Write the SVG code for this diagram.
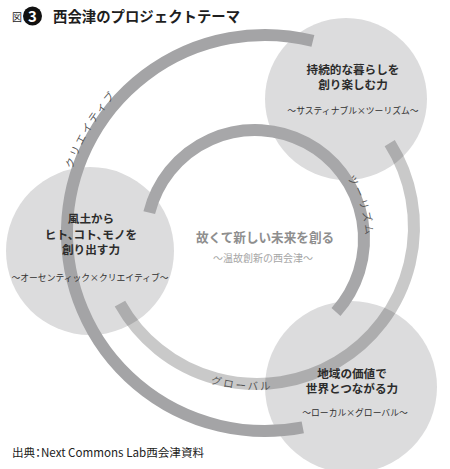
<svg xmlns="http://www.w3.org/2000/svg" width="450" height="469" viewBox="0 0 450 469">
<style>
text{font-family:"Noto Sans CJK JP","Noto Sans",sans-serif;}
.circ{fill:#dcdcdd;}
.arc{fill:none;stroke-width:12;stroke-linecap:butt;}
.a{stroke:#a4a4a6;}
.b{stroke:#a7a7a9;}
.c{stroke:#000;stroke-opacity:0.21;}
.node{fill:#2c2c2c;font-size:11.6px;font-weight:bold;text-anchor:middle;}
.sub{fill:#303030;font-size:8.8px;text-anchor:middle;}
.lbl{fill:#555;font-size:10.4px;}
.halt{font-feature-settings:'halt';}
</style>
<defs>
<path id="pA" d="M 63.01 212.84 A 203 203 0 0 1 150.6 65.3"/>
<path id="pB" d="M 336.73 164.63 A 110.5 110.5 0 0 1 364.5 253.81"/>
<path id="pC" d="M 175.5 368.16 A 163 163 0 0 0 310.07 381.12"/>
</defs>
<rect width="450" height="469" fill="#fff"/>
<g id="title">
<text x="12" y="20.5" font-size="10" fill="#222">図</text>
<circle cx="32.5" cy="16" r="9.5" fill="#111"/>
<text x="32.5" y="21.5" font-size="15" font-weight="bold" fill="#fff" text-anchor="middle">3</text>
<text x="53" y="22" font-size="14.4" font-weight="bold" fill="#1e1e1e">西会津のプロジェクトテーマ</text>
</g>
<g id="node-sustain"><circle class="circ" cx="346" cy="99" r="81"/></g>
<g id="node-authentic"><circle class="circ" cx="90" cy="251" r="84"/></g>
<g id="node-local"><circle class="circ" cx="351" cy="387" r="86"/></g>
<g id="connectors">
<path class="arc a" d="M 312.9 40.9 A 198 198 0 1 0 302.78 427.36"/>
<path class="arc b" d="M 149.24 212.63 A 109 109 0 1 1 336 311.94"/>
<path class="arc c" d="M 119.95 303.59 A 157 157 0 1 0 389.71 143.11"/>
<text class="lbl" letter-spacing="2.2"><textPath href="#pA" startOffset="50%" text-anchor="middle">クリエイティブ</textPath></text>
<text class="lbl" letter-spacing="2.2"><textPath href="#pB" startOffset="50%" text-anchor="middle">ツーリズム</textPath></text>
<text class="lbl" letter-spacing="2.2"><textPath href="#pC" startOffset="50%" text-anchor="middle">グローバル</textPath></text>
</g>
<g id="node-sustain-text">
<text class="node" x="353" y="74">持続的な暮らしを</text>
<text class="node" x="353" y="89">創り楽しむ力</text>
<text class="sub" x="353" y="114">〜サスティナブル×ツーリズム〜</text>
</g>
<g id="node-authentic-text">
<text class="node halt" x="91" y="238.5">ヒト、コト、モノを</text>
<text class="node" x="91" y="222.5">風土から</text>
<text class="node" x="91" y="253.5">創り出す力</text>
<text class="sub" x="90" y="280.5">〜オーセンティック×クリエイティブ〜</text>
</g>
<g id="node-local-text">
<text class="node" x="352" y="377.5">地域の価値で</text>
<text class="node" x="352" y="392.5">世界とつながる力</text>
<text class="sub" x="355" y="415.5">〜ローカル×グローバル〜</text>
</g>
<g id="center">
<text x="265" y="242" font-size="12.6" font-weight="bold" fill="#8e8e8e" text-anchor="middle">故くて新しい未来を創る</text>
<text x="263" y="262" font-size="10" fill="#a6a6a6" text-anchor="middle">〜温故創新の西会津〜</text>
</g>
<g id="footer">
<text class="halt" x="12" y="457" font-size="11.6" fill="#222">出典：Next Commons Lab西会津資料</text>
</g>
</svg>
